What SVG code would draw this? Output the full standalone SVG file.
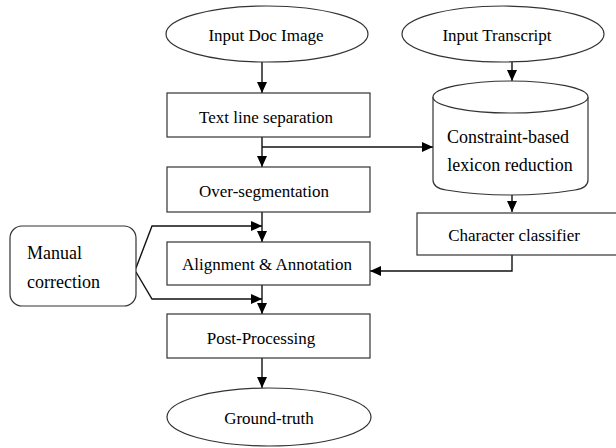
<svg xmlns="http://www.w3.org/2000/svg" width="616" height="448" viewBox="0 0 616 448">
<defs>
<marker id="ah" markerUnits="userSpaceOnUse" markerWidth="12" markerHeight="12" refX="11" refY="5" orient="auto">
<path d="M0,0 L11,5 L0,10 Z" fill="#000"/>
</marker>
</defs>
<style>
.shape{fill:#fff;stroke:#333;stroke-width:1.2}
.t{font-family:"Liberation Serif","Times New Roman",serif;font-size:17px;fill:#000;text-anchor:middle}
.tl{font-size:18px}
.c{fill:none;stroke:#111;stroke-width:1.4;marker-end:url(#ah)}
</style>
<rect width="616" height="448" fill="#fff"/>
<g id="connectors">
<path class="c" d="M262,62 V93"/>
<path class="c" d="M262,137 V167"/>
<path class="c" d="M262,147 H433"/>
<path class="c" d="M262,212 V242"/>
<path class="c" d="M262,285 V314"/>
<path class="c" d="M262,358 V388"/>
<path class="c" d="M512,62 V81"/>
<path class="c" d="M512,195 V212"/>
<path class="c" d="M512,255 V271 H370"/>
<path class="c" d="M136,268 L152,226 H262"/>
<path class="c" d="M136,272 L152,299 H262"/>
</g>
<g id="input-doc-image">
<ellipse class="shape" cx="267" cy="34" rx="101" ry="28"/>
<text class="t" x="266" y="41">Input Doc Image</text>
</g>
<g id="input-transcript">
<ellipse class="shape" cx="503" cy="34" rx="101" ry="28"/>
<text class="t" x="497" y="41">Input Transcript</text>
</g>
<g id="text-line-separation">
<rect class="shape" x="167" y="93" width="203" height="44"/>
<text class="t" x="266" y="123">Text line separation</text>
</g>
<g id="lexicon-reduction">
<path class="shape" d="M433,97 A77.5,16 0 0 1 588,97 V180 Q588,188 575,190 Q545,195 510.5,195 Q476,195 446,190 Q433,188 433,180 Z"/>
<path class="shape" fill="none" d="M433,97 A77.5,16 0 0 0 588,97"/>
<text class="t tl" x="508" y="143">Constraint-based</text>
<text class="t tl" x="510" y="171">lexicon reduction</text>
</g>
<g id="over-segmentation">
<rect class="shape" x="167" y="167" width="203" height="45"/>
<text class="t" x="264" y="197">Over-segmentation</text>
</g>
<g id="character-classifier">
<rect class="shape" x="417" y="213" width="205" height="42"/>
<text class="t" x="514" y="241">Character classifier</text>
</g>
<g id="alignment-annotation">
<rect class="shape" x="167" y="242" width="203" height="43"/>
<text class="t" x="267" y="270">Alignment &amp; Annotation</text>
</g>
<g id="manual-correction">
<rect class="shape" x="10" y="226" width="126" height="80" rx="12" ry="12"/>
<text class="t tl" x="27" y="259" style="text-anchor:start">Manual</text>
<text class="t tl" x="27" y="288" style="text-anchor:start">correction</text>
</g>
<g id="post-processing">
<rect class="shape" x="167" y="314" width="203" height="44"/>
<text class="t" x="261" y="344">Post-Processing</text>
</g>
<g id="ground-truth">
<ellipse class="shape" cx="269" cy="417" rx="102" ry="29"/>
<text class="t" x="269" y="424">Ground-truth</text>
</g>
</svg>
